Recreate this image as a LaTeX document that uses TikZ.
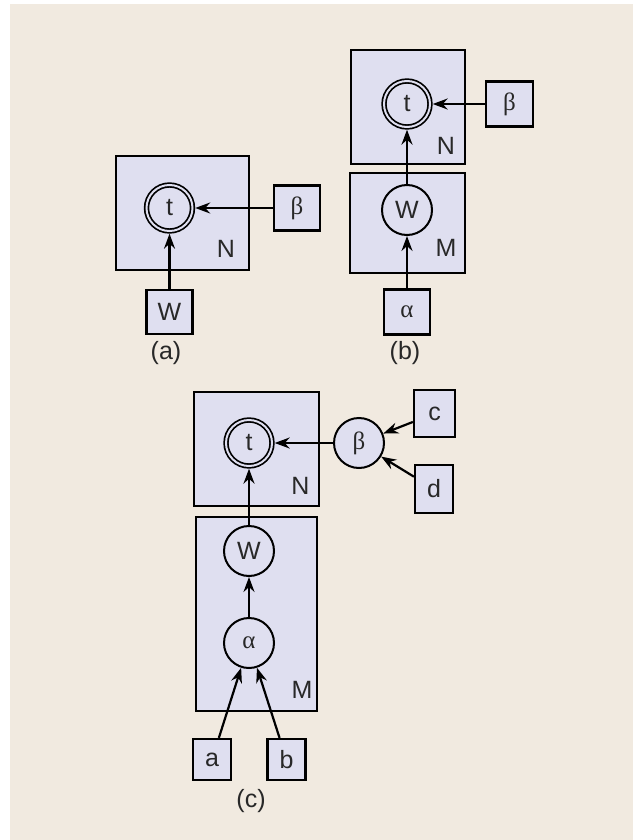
\documentclass[tikz,border=0pt]{standalone}
\usepackage{fontspec}
\setmainfont{Liberation Sans}
\newfontfamily\greekfont{Liberation Serif}
\usetikzlibrary{arrows.meta}
\definecolor{paper}{RGB}{241,234,224}
\definecolor{lav}{RGB}{223,223,240}
\definecolor{ink}{RGB}{40,40,40}

\begin{document}
\begin{tikzpicture}[
                x=1pt, y=-1pt,
                every node/.style={font=\fontsize{25}{29}\selectfont, text=ink},
                plate/.style={rectangle, draw=black, fill=lav, line width=2.2pt, inner sep=0pt},
                varbox/.style={rectangle, draw=black, fill=lav, line width=2.2pt, inner sep=0pt, minimum width=46pt, minimum height=45pt},
                varnode/.style={circle, draw=black, fill=lav, line width=2pt, inner sep=0pt, minimum size=50pt},
                obsnode/.style={circle, draw=black, fill=lav, line width=1.7pt, double=lav, double distance=2pt, inner sep=0pt, minimum size=46pt, outer sep=2.7pt},
                link/.style={-{Stealth[length=15pt, width=11pt, inset=5pt]}, line width=2.2pt, draw=black}
            ]
                % Page and panel background
                \useasboundingbox (0,0) rectangle (633,840);
                \fill[white] (0,0) rectangle (633,840);
                \fill[paper] (10,4) rectangle (633,840);

                % Panel (a)
                \node[plate, minimum width=133pt, minimum height=114pt] (plateNa) at (182.5,213) {};
                \node[obsnode] (ta) at (169.5,208) {t};
                \node[varbox] (betaa) at (297,208) {\greekfont β};
                \node[varbox, minimum height=44pt] (Wa) at (169.5,312) {W};
                \node (labNa) at (226,249) {N};
                \node (capa) at (166,353) {(a)};
                \draw[link] (betaa) -- (ta);
                \draw[link] (Wa) -- (ta);

                % Panel (b)
                \node[plate, minimum width=114pt, minimum height=114pt] (plateNb) at (408,107) {};
                \node[plate, minimum width=115pt, minimum height=100pt] (plateMb) at (407.5,223) {};
                \node[obsnode] (tb) at (407,104) {t};
                \node[varbox, minimum width=47pt] (betab) at (509.5,104) {\greekfont β};
                \node[varnode] (Wb) at (407,210) {W};
                \node[varbox] (alphab) at (407,312) {\greekfont α};
                \node (labNb) at (446,146) {N};
                \node (labMb) at (446,248) {M};
                \node (capb) at (405,353) {(b)};
                \draw[link] (betab) -- (tb);
                \draw[link] (Wb) -- (tb);
                \draw[link] (alphab) -- (Wb);

                % Panel (c)
                \node[plate, minimum width=125pt, minimum height=114pt] (plateNc) at (256.5,449) {};
                \node[plate, minimum width=121pt, minimum height=194pt] (plateMc) at (256.5,614) {};
                \node[obsnode] (tc) at (249,443) {t};
                \node[varnode] (betac) at (359,443) {\greekfont β};
                \node[varbox, minimum width=41pt, minimum height=47pt] (cc) at (434.5,413.5) {c};
                \node[varbox, minimum width=38pt, minimum height=48pt] (dc) at (434,489) {d};
                \node[varnode] (Wc) at (249,551) {W};
                \node[varnode] (alphac) at (249,643) {\greekfont α};
                \node[varbox, minimum width=38pt, minimum height=41pt] (ac) at (212,759.5) {a};
                \node[varbox, minimum width=38pt, minimum height=41pt] (bc) at (286.5,759.5) {b};
                \node (labNc) at (300.5,486) {N};
                \node (labMc) at (302,690) {M};
                \node (capc) at (251,801) {(c)};
                \draw[link] (betac) -- (tc);
                \draw[link] (cc) -- (betac);
                \draw[link] (dc) -- (betac);
                \draw[link] (Wc) -- (tc);
                \draw[link] (alphac) -- (Wc);
                \draw[link] (ac) -- (alphac);
                \draw[link] (bc) -- (alphac);
            \end{tikzpicture}
\end{document}
